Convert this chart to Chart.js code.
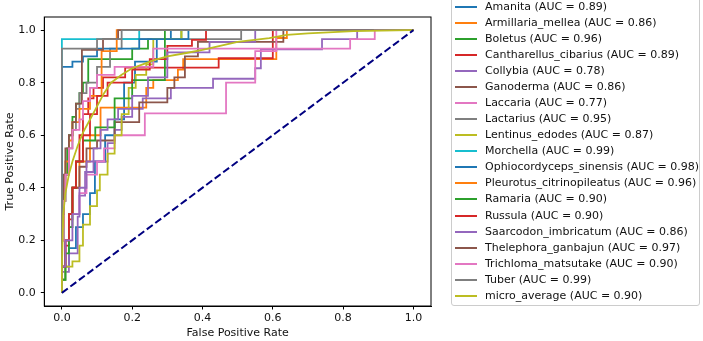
<!DOCTYPE html>
<html><head><meta charset="utf-8">
<script src="https://cdn.jsdelivr.net/npm/chart.js@4.4.1/dist/chart.umd.min.js"></script>
<style>
html,body{margin:0;padding:0;background:#fff;overflow:hidden}
#wrap{position:relative;width:703px;height:341px}
canvas{position:absolute;left:0;top:0}
#legend{position:absolute;left:450.5px;top:-4px;width:249.5px;height:310px;border:1px solid #cccccc;border-radius:3px;background:rgba(255,255,255,0.8);box-sizing:border-box;font-family:"DejaVu Sans",sans-serif;font-size:11px;color:#111}
.row{position:absolute;left:0;height:16px;line-height:16px;white-space:nowrap}
.sw{position:absolute;left:3.5px;top:7px;width:22px;height:2px}
.lb{position:absolute;left:33.5px;top:0}
</style>
</head><body>
<div id="wrap"><canvas id="c" width="703" height="341"></canvas><div id="legend"></div></div>
<script>
const classNames = ["Amanita","Armillaria_mellea","Boletus","Cantharellus_cibarius","Collybia","Ganoderma","Laccaria","Lactarius","Lentinus_edodes","Morchella","Ophiocordyceps_sinensis","Pleurotus_citrinopileatus","Ramaria","Russula","Saarcodon_imbricatum","Thelephora_ganbajun","Trichloma_matsutake","Tuber","micro_average"];
const aucValues = [0.89,0.86,0.96,0.89,0.78,0.86,0.77,0.95,0.87,0.99,0.98,0.96,0.90,0.90,0.86,0.97,0.90,0.99,0.90];
const tickValues = [0,0.2,0.4,0.6,0.8,1.0];

const amanitaFpr = [0,0,0.01,0.02,0.04,0.06,0.08,0.094,0.123,0.15,0.177,0.208,0.27,0.31,1];
const amanitaTpr = [0,0.05,0.1,0.17,0.25,0.3,0.38,0.5,0.6,0.66,0.8,0.88,0.966,1,1];
const armillariaFpr = [0,0,0.01,0.02,0.03,0.05,0.08,0.11,0.24,0.26,0.33,0.345,0.61,0.64,1];
const armillariaTpr = [0,0.1,0.2,0.3,0.4,0.5,0.6,0.705,0.78,0.81,0.85,0.89,0.97,1,1];
const boletusFpr = [0,0,0.005,0.01,0.015,0.02,0.03,0.04,0.05,0.06,0.075,0.2,0.245,0.34,1];
const boletusTpr = [0,0.2,0.35,0.45,0.55,0.6,0.67,0.72,0.76,0.8,0.89,0.93,0.966,1,1];
const cantharellusFpr = [0,0,0.01,0.02,0.03,0.04,0.05,0.06,0.075,0.09,0.117,0.18,0.446,0.6,1];
const cantharellusTpr = [0,0.1,0.18,0.28,0.4,0.5,0.6,0.68,0.74,0.78,0.82,0.857,0.893,1,1];
const collybiaFpr = [0,0,0.02,0.045,0.05,0.066,0.09,0.13,0.15,0.17,0.2,0.23,0.31,0.43,0.55,0.566,0.74,0.84,1];
const collybiaTpr = [0,0.08,0.15,0.29,0.37,0.46,0.5,0.57,0.62,0.67,0.7,0.74,0.78,0.815,0.855,0.927,0.966,1,1];
const ganodermaFpr = [0,0,0.01,0.02,0.03,0.05,0.07,0.1,0.15,0.22,0.3,0.32,0.35,0.387,0.63,1];
const ganodermaTpr = [0,0.1,0.2,0.3,0.4,0.48,0.55,0.58,0.65,0.725,0.78,0.82,0.9,0.955,1,1];
const laccariaFpr = [0,0,0.01,0.02,0.03,0.05,0.07,0.1,0.12,0.15,0.236,0.467,0.55,0.61,1];
const laccariaTpr = [0,0.1,0.2,0.25,0.3,0.38,0.45,0.5,0.55,0.6,0.683,0.8,0.92,1,1];
const lactariusFpr = [0,0,0.005,0.01,0.02,0.03,0.04,0.05,0.07,0.1,0.137,0.17,0.51,1];
const lactariusTpr = [0,0.2,0.35,0.45,0.55,0.62,0.7,0.76,0.8,0.86,0.93,0.966,1,1];
const lentinusFpr = [0,0,0.01,0.03,0.05,0.06,0.08,0.1,0.108,0.13,0.15,0.17,0.19,0.21,0.24,0.26,0.34,1];
const lentinusTpr = [0,0.05,0.1,0.12,0.18,0.26,0.33,0.39,0.45,0.53,0.6,0.68,0.78,0.83,0.87,0.966,1,1];
const morchellaFpr = [0,0,0.22,1];
const morchellaTpr = [0,0.966,1,1];
const ophioFpr = [0,0,0.03,0.06,0.1,0.22,0.36,1];
const ophioTpr = [0,0.86,0.88,0.9,0.93,0.966,1,1];
const pleurotusFpr = [0,0,0.005,0.01,0.02,0.03,0.05,0.08,0.113,0.156,1];
const pleurotusTpr = [0,0.25,0.4,0.5,0.58,0.65,0.7,0.75,0.92,1,1];
const ramariaFpr = [0,0,0.01,0.02,0.03,0.04,0.06,0.095,0.15,0.2,0.293,1];
const ramariaTpr = [0,0.05,0.15,0.25,0.4,0.5,0.58,0.63,0.74,0.81,1,1];
const russulaFpr = [0,0,0.01,0.02,0.03,0.04,0.06,0.08,0.1,0.13,0.2,0.25,0.3,0.37,0.41,1];
const russulaTpr = [0,0.1,0.2,0.3,0.4,0.5,0.6,0.68,0.75,0.8,0.85,0.89,0.94,0.963,1,1];
const saarcodonFpr = [0,0,0.01,0.03,0.05,0.07,0.09,0.11,0.13,0.16,0.2,0.245,0.3,0.42,0.55,1];
const saarcodonTpr = [0,0.1,0.2,0.3,0.4,0.5,0.55,0.62,0.66,0.7,0.75,0.82,0.915,0.955,1,1];
const thelephoraFpr = [0,0,0.005,0.01,0.02,0.03,0.04,0.057,0.117,0.16,1];
const thelephoraTpr = [0,0.3,0.45,0.55,0.6,0.65,0.72,0.925,0.966,1,1];
const trichlomaFpr = [0,0,0.005,0.01,0.02,0.03,0.05,0.06,0.08,0.1,0.15,0.26,0.82,0.89,1];
const trichlomaTpr = [0,0.2,0.35,0.45,0.55,0.62,0.66,0.73,0.78,0.83,0.86,0.93,0.966,1,1];
const tuberFpr = [0,0,0.1,0.17,1];
const tuberTpr = [0,0.93,0.966,1,1];
const microFpr = [0,0,0.002,0.004,0.01,0.02,0.03,0.045,0.06,0.08,0.1,0.12,0.14,0.17,0.2,0.23,0.26,0.3,0.35,0.4,0.45,0.5,0.59,0.64,0.7,0.83,0.99,1];
const microTpr = [0,0.1,0.2,0.3,0.38,0.45,0.5,0.56,0.61,0.66,0.71,0.76,0.8,0.83,0.855,0.87,0.885,0.9,0.912,0.925,0.94,0.955,0.97,0.982,0.988,0.996,1,1];
const chanceFpr = [0,1];
const chanceTpr = [0,1];

const curves = [
  [amanitaFpr,amanitaTpr],[armillariaFpr,armillariaTpr],[boletusFpr,boletusTpr],[cantharellusFpr,cantharellusTpr],
  [collybiaFpr,collybiaTpr],[ganodermaFpr,ganodermaTpr],[laccariaFpr,laccariaTpr],[lactariusFpr,lactariusTpr],
  [lentinusFpr,lentinusTpr],[morchellaFpr,morchellaTpr],[ophioFpr,ophioTpr],[pleurotusFpr,pleurotusTpr],
  [ramariaFpr,ramariaTpr],[russulaFpr,russulaTpr],[saarcodonFpr,saarcodonTpr],[thelephoraFpr,thelephoraTpr],
  [trichlomaFpr,trichlomaTpr],[tuberFpr,tuberTpr],[microFpr,microTpr]
];
const tab10 = ['#1f77b4','#ff7f0e','#2ca02c','#d62728','#9467bd','#8c564b','#e377c2','#7f7f7f','#bcbd22','#17becf'];
const toPts = (xs, ys) => xs.map((x, i) => ({x: x, y: ys[i]}));
const labels = classNames.map((n, i) => n + ' (AUC = ' + aucValues[i].toFixed(2) + ')');

const datasets = curves.map((c, i) => ({
  label: labels[i],
  data: toPts(c[0], c[1]),
  borderColor: tab10[i % 10],
  borderWidth: 1.8,
  pointRadius: 0,
  showLine: true,
  stepped: i === 18 ? false : 'before',
  fill: false,
  order: 100 - i
}));
datasets.push({
  label: 'chance',
  data: toPts(chanceFpr, chanceTpr),
  borderColor: '#000080',
  borderWidth: 2,
  borderDash: [7.4, 3.2],
  pointRadius: 0,
  showLine: true,
  fill: false,
  order: 0
});

const framePlugin = {
  id: 'frame',
  afterDraw(chart) {
    const a = chart.chartArea, ctx = chart.ctx;
    ctx.save();
    ctx.strokeStyle = '#000';
    ctx.lineWidth = 1;
    ctx.strokeRect(a.left, a.top, a.right - a.left, a.bottom - a.top);
    ctx.restore();
  }
};

const fontSpec = {family: 'DejaVu Sans', size: 11};
function axisOpts(isX) {
  return {
    type: 'linear', min: -0.05, max: 1.05,
    afterBuildTicks: s => { s.ticks = tickValues.map(v => ({value: v})); },
    afterFit: s => { if (isX) s.height = 35; else s.width = 44.3; },
    grid: {display: true, drawOnChartArea: false, drawTicks: true, tickLength: 3.5, color: '#000', tickColor: '#000', tickWidth: 1},
    border: {display: true, color: '#000', width: 1},
    ticks: {callback: v => Number(v).toFixed(1), font: fontSpec, color: '#111', padding: isX ? 2 : 5, maxRotation: 0, autoSkip: false},
    title: {display: true, text: isX ? 'False Positive Rate' : 'True Positive Rate', font: fontSpec, color: '#111', padding: isX ? {top: 0, bottom: 1.5} : {top: 3.5, bottom: 0}}
  };
}

new Chart(document.getElementById('c'), {
  type: 'scatter',
  data: {datasets: datasets},
  options: {
    responsive: false, animation: false, devicePixelRatio: 1,
    layout: {padding: {left: 0, right: 272, top: 17, bottom: 0}},
    plugins: {legend: {display: false}, tooltip: {enabled: false}},
    scales: {x: axisOpts(true), y: axisOpts(false)}
  },
  plugins: [framePlugin]
});

const leg = document.getElementById('legend');
labels.forEach((t, i) => {
  const r = document.createElement('div');
  r.className = 'row';
  r.style.top = (10 + 16.04 * i - 8) + 'px';
  r.style.width = '100%';
  const sw = document.createElement('div');
  sw.className = 'sw';
  sw.style.background = tab10[i % 10];
  const lb = document.createElement('div');
  lb.className = 'lb';
  lb.textContent = t;
  r.appendChild(sw); r.appendChild(lb);
  leg.appendChild(r);
});
</script>
</body></html>
